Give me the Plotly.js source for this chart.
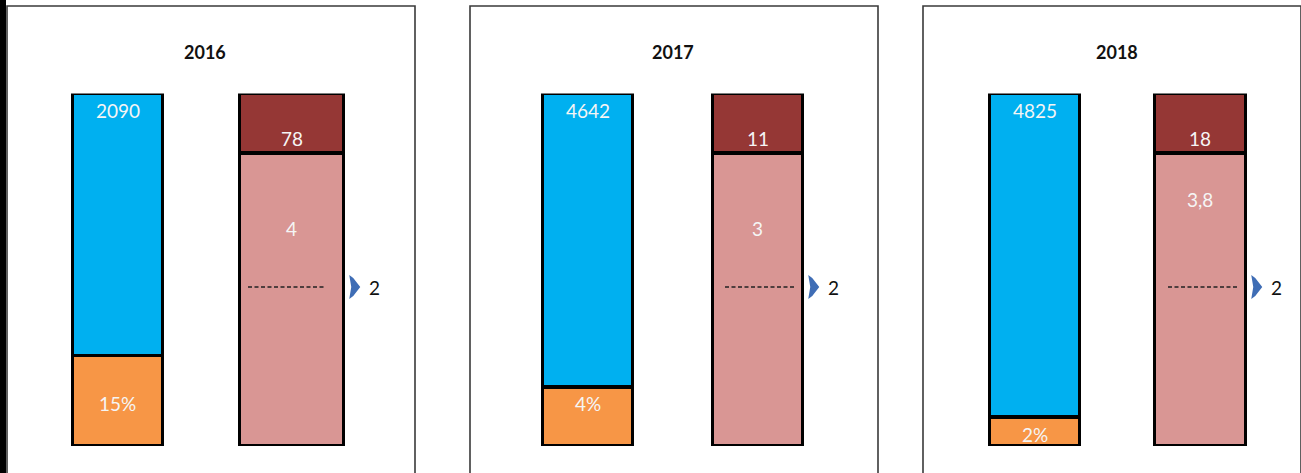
<!DOCTYPE html>
<html><head><meta charset="utf-8">
<script src="https://cdn.plot.ly/plotly-3.0.1.min.js"></script>
<style>html,body{margin:0;padding:0;background:#fff;}#chart{width:1301px;height:473px;}</style>
</head><body><div id="chart"></div>
<script>
// ---- data ----
const years = ['2016', '2017', '2018'];
const blueLabels = ['2090', '4642', '4825'];
const orangeLabels = ['15%', '4%', '2%'];
const blueHeights = [74.3, 83.3, 91.8];
const orangeHeights = [25.7, 16.7, 8.2];
const darkLabels = ['78', '11', '18'];
const lightLabels = ['4', '3', '3,8'];
const darkHeights = [16.9, 16.9, 16.9];
const lightHeights = [83.1, 83.1, 83.1];
const thresholdLevel = [45.1, 45.1, 45.1];
const thresholdLabels = ['2', '2', '2'];

// ---- layout constants (pixels) ----
const W = 1301, H = 473;
const yTopPx = 93.5, yBotPx = 446;
const panels = [
  {left: 7,   right: 415,  c0: 117.5,  c1: 291.5, w0: 90, w1: 104, dashL: 248,  dashR: 325},
  {left: 470, right: 878,  c0: 587.5,  c1: 757.5, w0: 90, w1: 90,  dashL: 725,  dashR: 795},
  {left: 923, right: 1301, c0: 1034.5, c1: 1200,  w0: 90, w1: 91,  dashL: 1168, dashR: 1238}
];
const labelY = {blue: [95.3, 95.3, 95.3], orange: [12.2, 12.2, 3.4], dark: [87.1, 87.1, 87.1], light: [61.8, 61.8, 69.8]};

const colors = {blue: '#00B0F0', orange: '#F79646', dark: '#953735', light: '#D99694', arrow: '#3F6DB5'};
const FONT = 'Lato, "Open Sans", sans-serif';
const px = x => x / W, py = y => 1 - y / H;
const yDom = [py(yBotPx), py(yTopPx)];

const traces = [];
const layout = {
  width: W, height: H, margin: {l: 0, r: 0, t: 0, b: 0},
  paper_bgcolor: '#fff', plot_bgcolor: 'rgba(0,0,0,0)',
  barmode: 'stack', showlegend: false,
  shapes: [], annotations: [],
  font: {family: FONT}
};

panels.forEach((p, i) => {
  const n = i === 0 ? '' : String(i + 1);
  const xa = 'x' + n, ya = 'y' + n;
  const unit = p.c1 - p.c0;
  const toX = v => (v - p.c0) / unit;
  layout['xaxis' + n] = {domain: [px(p.left), px(p.right)], range: [toX(p.left), toX(p.right)],
    visible: false, showgrid: false, zeroline: false, fixedrange: true};
  layout['yaxis' + n] = {domain: yDom, range: [0, 100], visible: false, showgrid: false,
    zeroline: false, fixedrange: true, anchor: xa};
  const line = {color: '#000', width: 3.5};
  const wb = p.w0 / unit, wp = p.w1 / unit;
  traces.push({type: 'bar', x: [0], y: [orangeHeights[i]], width: [wb], xaxis: xa, yaxis: ya,
    marker: {color: colors.orange, line: line}, hoverinfo: 'skip'});
  traces.push({type: 'bar', x: [0], y: [blueHeights[i]], width: [wb], xaxis: xa, yaxis: ya,
    marker: {color: colors.blue, line: line}, hoverinfo: 'skip'});
  traces.push({type: 'bar', x: [1], y: [lightHeights[i]], width: [wp], xaxis: xa, yaxis: ya,
    marker: {color: colors.light, line: line}, hoverinfo: 'skip'});
  traces.push({type: 'bar', x: [1], y: [darkHeights[i]], width: [wp], xaxis: xa, yaxis: ya,
    marker: {color: colors.dark, line: line}, hoverinfo: 'skip'});
  // dashed threshold line
  traces.push({type: 'scatter', mode: 'lines', x: [toX(p.dashL), toX(p.dashR)],
    y: [thresholdLevel[i], thresholdLevel[i]], xaxis: xa, yaxis: ya,
    line: {color: '#222', width: 1.5, dash: '4px,2.5px'}, hoverinfo: 'skip'});

  // panel border
  layout.shapes.push({type: 'path', xref: 'paper', yref: 'paper',
    path: `M${px(p.left)},${py(H + 10)} L${px(p.left)},${py(6)} L${px(p.right)},${py(6)} L${px(p.right)},${py(H + 10)}`,
    line: {color: '#3a3a3a', width: 1.6}});

  // arrow + threshold label
  const barRight = p.c1 + p.w1 / 2 + 1.75;
  const ty = yBotPx - thresholdLevel[i] / 100 * (yBotPx - yTopPx);
  const ax = barRight + 4;
  layout.shapes.push({type: 'path', xref: 'paper', yref: 'paper',
    path: `M${px(ax)},${py(ty - 12)} L${px(ax + 4)},${py(ty - 9)} L${px(ax + 11)},${py(ty)} L${px(ax + 4)},${py(ty + 9)} L${px(ax)},${py(ty + 12)} L${px(ax + 2)},${py(ty)} Z`,
    fillcolor: colors.arrow, line: {width: 0}});
  layout.annotations.push({xref: 'paper', yref: ya, x: px(barRight + 29), y: thresholdLevel[i],
    text: thresholdLabels[i], showarrow: false, font: {size: 19, color: '#111', family: FONT},
    xanchor: 'center', yanchor: 'middle'});

  // title
  layout.annotations.push({xref: xa, yref: 'paper', x: 0.5, y: py(52), text: '<b>' + years[i] + '</b>',
    showarrow: false, font: {size: 18, color: '#111', family: FONT}, xanchor: 'center', yanchor: 'middle'});

  // bar labels
  const lab = (x, y, t) => layout.annotations.push({xref: xa, yref: ya, x: x, y: y, text: t, showarrow: false,
    font: {size: 19, color: '#F5F5F5', family: FONT}, xanchor: 'center', yanchor: 'middle'});
  lab(0, labelY.blue[i], blueLabels[i]);
  lab(0, labelY.orange[i], orangeLabels[i]);
  lab(1, labelY.dark[i], darkLabels[i]);
  lab(1, labelY.light[i], lightLabels[i]);
});

// black strip at the left edge
layout.shapes.push({type: 'rect', xref: 'paper', yref: 'paper', x0: 0, x1: px(6), y0: 0, y1: 1,
  fillcolor: '#000', line: {width: 0}});

Plotly.newPlot('chart', traces, layout, {displayModeBar: false, staticPlot: true});
</script></body></html>
